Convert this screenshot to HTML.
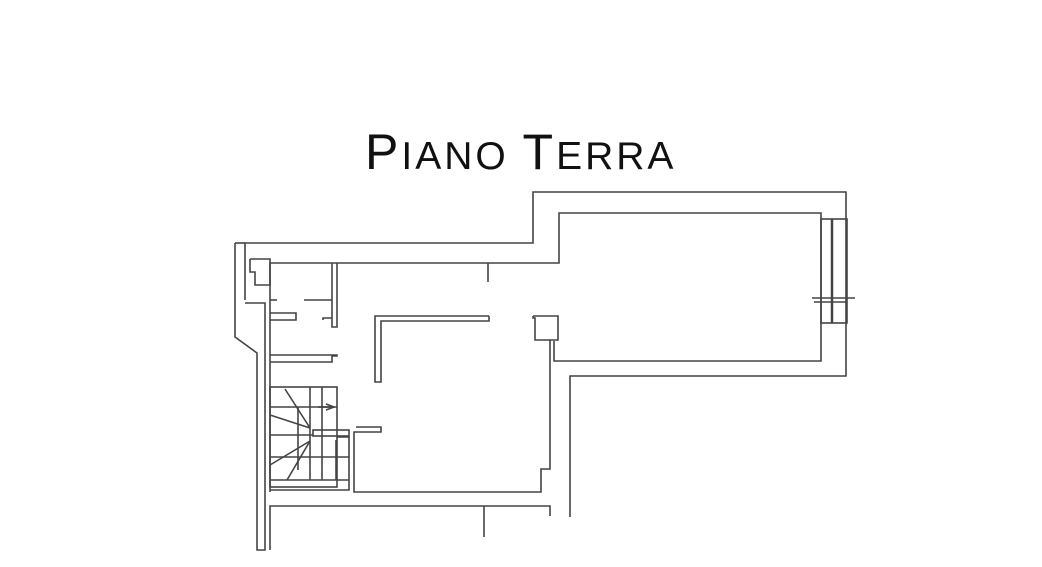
<!DOCTYPE html>
<html><head><style>
body{margin:0;width:1042px;height:567px;background:#fff;overflow:hidden;position:relative}
.t{position:absolute;left:365px;top:122px;font-family:"Liberation Sans",sans-serif;font-weight:normal;color:#111;white-space:nowrap;letter-spacing:3px;line-height:60px}
.b{font-size:50px}.s{font-size:39px}
svg{position:absolute;left:0;top:0}
</style></head><body>
<div class="t"><span class="b">P</span><span class="s">IANO </span><span class="b">T</span><span class="s">ERRA</span></div>
<svg width="1042" height="567" fill="none" stroke="#444" stroke-width="1.6">
<polyline points="245,300 245,243 533,243 533,192 846,192 846,376 570,376 570,517"/>
<polyline points="235,243 245,243"/>
<polyline points="235,243 235,337 257,353 257,550 265,550 265,303 245,303"/>
<polyline points="270,263 335,263 559,263 559,213 821,213 821,361 554,361 554,341"/>
<polyline points="488,263 488,282"/>
<polyline points="533,316 558,316 558,340 550,340 550,469 541,469 541,492 354,492 354,432 381,432 381,427 356,427"/>
<polyline points="533,316 533,318 535,318 535,340 550,340"/>
<rect x="821" y="219" width="26" height="104"/>
<line x1="832" y1="219" x2="832" y2="323" stroke-width="2.5"/>
<line x1="812" y1="298" x2="855" y2="298"/>
<line x1="814" y1="302" x2="846" y2="302"/>
<polyline points="489,316 375,316 375,382 381,382 381,321 489,321 489,316"/>
<polyline points="270,263 270,492"/>
<polyline points="250,259 270,259 270,285 255,285 255,272 250,272 250,259"/>
<polyline points="270,300 277,300"/><polyline points="304,300 332,300"/>
<polyline points="332,263 332,327 337,327 337,263"/>
<polyline points="332,318 323,318 323,320"/>
<polyline points="270,313 296,313 296,320 270,320"/>
<polyline points="270,355 337,355 337,356 332,356 332,362 270,362"/>
<rect x="270" y="387" width="67" height="100"/>
<polyline points="270,490 349,490 349,437 337,437"/>
<line x1="270" y1="480" x2="349" y2="480"/>
<rect x="313" y="430" width="36" height="6"/>
<line x1="270" y1="407" x2="337" y2="407"/>
<line x1="298" y1="407" x2="298" y2="470"/>
<line x1="310" y1="387" x2="310" y2="480"/>
<line x1="322" y1="387" x2="322" y2="480"/>
<line x1="336" y1="440" x2="336" y2="480"/>
<line x1="270" y1="435" x2="313" y2="435"/>
<line x1="270" y1="457" x2="349" y2="457"/>
<line x1="270" y1="415" x2="310" y2="428"/>
<line x1="285" y1="389" x2="310" y2="428"/>
<line x1="270" y1="465" x2="310" y2="441"/>
<line x1="287" y1="480" x2="310" y2="441"/>
<polyline points="326,404 334,407 326,410"/>
<line x1="318" y1="407" x2="334" y2="407"/>
<polyline points="270,550 270,506 550,506 550,516"/>
<line x1="484" y1="506" x2="484" y2="537"/>
</svg>
</body></html>
